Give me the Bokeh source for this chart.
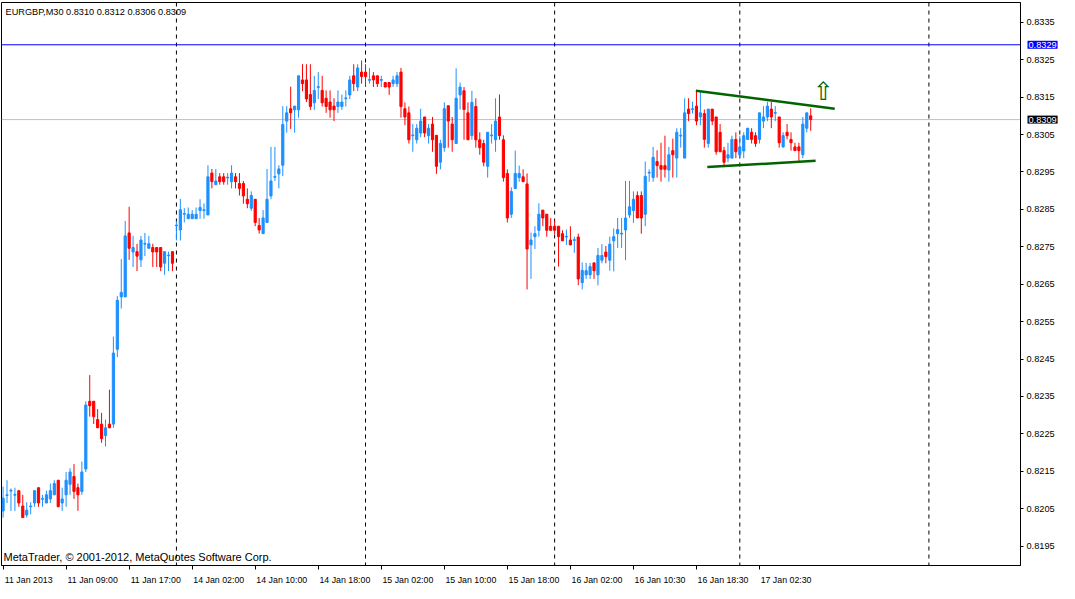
from bokeh.plotting import figure
from bokeh.models import Range1d, FixedTicker, PrintfTickFormatter, Span, Label, ColumnDataSource
from bokeh.core.properties import value
from bokeh.embed import file_html
from bokeh.resources import INLINE

# ---------------- data (EURGBP, M30) ----------------
opens = [0.82044, 0.82085, 0.82097, 0.82086, 0.82098, 0.82057, 0.82033, 0.82055, 0.82065, 0.82106,
         0.82075, 0.82065, 0.82076, 0.82087, 0.82126, 0.82065, 0.82087, 0.82115, 0.82136, 0.82106,
         0.82096, 0.82156, 0.82337, 0.82337, 0.82288, 0.82276, 0.82245, 0.82276, 0.82276, 0.82476,
         0.82616, 0.82616, 0.82787, 0.82736, 0.82737, 0.82715, 0.82757, 0.82746, 0.82748, 0.82748,
         0.82748, 0.82706, 0.82726, 0.82737, 0.82806, 0.82795, 0.82837, 0.82825, 0.82825, 0.82825,
         0.82847, 0.82847, 0.82835, 0.82947, 0.82916, 0.82937, 0.82937, 0.82934, 0.82924, 0.82937,
         0.82919, 0.82919, 0.82877, 0.82853, 0.82877, 0.82807, 0.82785, 0.82815, 0.82886, 0.82936,
         0.82945, 0.82968, 0.83086, 0.83119, 0.83116, 0.83116, 0.83196, 0.83196, 0.83157, 0.83135,
         0.83176, 0.83168, 0.83147, 0.83137, 0.83126, 0.83125, 0.83125, 0.83146, 0.83156, 0.83207,
         0.83177, 0.83217, 0.83217, 0.83195, 0.83207, 0.83207, 0.83195, 0.83189, 0.83189, 0.83186,
         0.83186, 0.83217, 0.83119, 0.83108, 0.83047, 0.83036, 0.83054, 0.83097, 0.83047, 0.83078,
         0.83048, 0.82976, 0.83015, 0.83127, 0.83078, 0.83026, 0.83156, 0.83167, 0.83108, 0.83047,
         0.83125, 0.83036, 0.83026, 0.82965, 0.83047, 0.83036, 0.83097, 0.83036, 0.82946, 0.82837,
         0.82906, 0.82935, 0.82937, 0.82918, 0.82755, 0.82777, 0.82794, 0.82848, 0.82837, 0.82805,
         0.82805, 0.82805, 0.82785, 0.82776, 0.82768, 0.82767, 0.82776, 0.82654, 0.82675, 0.82675,
         0.82707, 0.82675, 0.82714, 0.82736, 0.82714, 0.82766, 0.82785, 0.82784, 0.82795, 0.82835,
         0.82847, 0.82887, 0.82887, 0.82837, 0.82947, 0.82935, 0.82978, 0.82967, 0.82967, 0.82955,
         0.83007, 0.82987, 0.83046, 0.82987, 0.83118, 0.83117, 0.83126, 0.83097, 0.83106, 0.83026,
         0.83118, 0.83097, 0.83056, 0.83007, 0.82987, 0.82987, 0.83037, 0.82996, 0.83006, 0.83037,
         0.83056, 0.83047, 0.83037, 0.83086, 0.83097, 0.83118, 0.83107, 0.83097, 0.83017, 0.83056,
         0.83037, 0.83017, 0.83017, 0.82996, 0.83067, 0.83100]
highs = [0.82109, 0.82126, 0.82104, 0.82106, 0.82098, 0.82087, 0.82067, 0.82067, 0.82098, 0.82106,
         0.82087, 0.82098, 0.82117, 0.82126, 0.82126, 0.82106, 0.82148, 0.82158, 0.82169, 0.82117,
         0.82176, 0.82337, 0.82407, 0.82337, 0.82316, 0.82306, 0.82288, 0.82368, 0.82510, 0.82618,
         0.82717, 0.82819, 0.82857, 0.82779, 0.82758, 0.82779, 0.82787, 0.82779, 0.82758, 0.82748,
         0.82748, 0.82737, 0.82737, 0.82737, 0.82819, 0.82878, 0.82853, 0.82855, 0.82848, 0.82855,
         0.82877, 0.82866, 0.82968, 0.82958, 0.82958, 0.82947, 0.82947, 0.82947, 0.82968, 0.82947,
         0.82947, 0.82926, 0.82906, 0.82898, 0.82877, 0.82827, 0.82848, 0.82958, 0.83017, 0.83017,
         0.82968, 0.83126, 0.83126, 0.83178, 0.83126, 0.83207, 0.83238, 0.83238, 0.83238, 0.83207,
         0.83217, 0.83207, 0.83168, 0.83168, 0.83147, 0.83168, 0.83157, 0.83168, 0.83207, 0.83238,
         0.83238, 0.83248, 0.83238, 0.83228, 0.83217, 0.83207, 0.83207, 0.83189, 0.83189, 0.83207,
         0.83217, 0.83228, 0.83136, 0.83125, 0.83078, 0.83078, 0.83119, 0.83097, 0.83078, 0.83097,
         0.83048, 0.83036, 0.83136, 0.83127, 0.83097, 0.83227, 0.83189, 0.83177, 0.83136, 0.83167,
         0.83147, 0.83056, 0.83036, 0.83056, 0.83078, 0.83147, 0.83157, 0.83048, 0.82957, 0.82909,
         0.83007, 0.82967, 0.82957, 0.82946, 0.82788, 0.82805, 0.82866, 0.82848, 0.82837, 0.82827,
         0.82820, 0.82805, 0.82794, 0.82796, 0.82805, 0.82777, 0.82785, 0.82708, 0.82707, 0.82707,
         0.82707, 0.82747, 0.82757, 0.82752, 0.82777, 0.82799, 0.82827, 0.82827, 0.82926, 0.82926,
         0.82898, 0.82898, 0.82898, 0.82978, 0.82957, 0.83017, 0.83008, 0.83028, 0.83047, 0.83017,
         0.83039, 0.83067, 0.83067, 0.83147, 0.83147, 0.83138, 0.83167, 0.83167, 0.83117, 0.83118,
         0.83118, 0.83097, 0.83078, 0.83017, 0.83028, 0.83047, 0.83056, 0.83047, 0.83056, 0.83067,
         0.83067, 0.83056, 0.83108, 0.83126, 0.83138, 0.83138, 0.83126, 0.83097, 0.83056, 0.83078,
         0.83056, 0.83028, 0.83028, 0.83097, 0.83108, 0.83120]
lows = [0.82026, 0.82065, 0.82044, 0.82044, 0.82055, 0.82026, 0.82026, 0.82035, 0.82055, 0.82055,
        0.82055, 0.82065, 0.82065, 0.82087, 0.82055, 0.82044, 0.82055, 0.82087, 0.82076, 0.82044,
        0.82087, 0.82148, 0.82296, 0.82276, 0.82266, 0.82226, 0.82216, 0.82266, 0.82266, 0.82455,
        0.82585, 0.82616, 0.82715, 0.82696, 0.82685, 0.82696, 0.82725, 0.82746, 0.82696, 0.82696,
        0.82685, 0.82675, 0.82685, 0.82685, 0.82767, 0.82767, 0.82815, 0.82825, 0.82825, 0.82825,
        0.82825, 0.82825, 0.82835, 0.82906, 0.82916, 0.82916, 0.82916, 0.82916, 0.82906, 0.82906,
        0.82887, 0.82865, 0.82853, 0.82846, 0.82805, 0.82785, 0.82785, 0.82815, 0.82877, 0.82926,
        0.82906, 0.82939, 0.83055, 0.83065, 0.83055, 0.83095, 0.83166, 0.83137, 0.83116, 0.83116,
        0.83145, 0.83125, 0.83108, 0.83095, 0.83086, 0.83108, 0.83116, 0.83125, 0.83145, 0.83166,
        0.83166, 0.83186, 0.83177, 0.83186, 0.83177, 0.83177, 0.83177, 0.83177, 0.83156, 0.83177,
        0.83177, 0.83095, 0.83075, 0.83026, 0.83004, 0.83026, 0.83043, 0.83043, 0.83026, 0.83004,
        0.82945, 0.82957, 0.83004, 0.83015, 0.83004, 0.83026, 0.83117, 0.83036, 0.83036, 0.83036,
        0.83015, 0.82996, 0.82965, 0.82935, 0.83026, 0.83004, 0.83036, 0.82924, 0.82815, 0.82827,
        0.82906, 0.82924, 0.82924, 0.82636, 0.82664, 0.82744, 0.82777, 0.82805, 0.82777, 0.82794,
        0.82783, 0.82697, 0.82766, 0.82755, 0.82755, 0.82734, 0.82647, 0.82636, 0.82664, 0.82664,
        0.82664, 0.82647, 0.82706, 0.82706, 0.82686, 0.82684, 0.82747, 0.82747, 0.82714, 0.82827,
        0.82814, 0.82827, 0.82785, 0.82805, 0.82924, 0.82924, 0.82935, 0.82924, 0.82935, 0.82924,
        0.82935, 0.82935, 0.83015, 0.82987, 0.83086, 0.83106, 0.83075, 0.83075, 0.83015, 0.83015,
        0.83075, 0.82996, 0.83004, 0.82963, 0.82976, 0.82987, 0.82987, 0.82987, 0.82987, 0.83037,
        0.83026, 0.83017, 0.83026, 0.83067, 0.83086, 0.83067, 0.83086, 0.83015, 0.83015, 0.83037,
        0.83007, 0.83007, 0.82978, 0.82987, 0.83056, 0.83060]
closes = [0.82078, 0.82087, 0.82099, 0.82088, 0.82065, 0.82026, 0.82046, 0.82057, 0.82098, 0.82065,
          0.82077, 0.82087, 0.82098, 0.82117, 0.82055, 0.82076, 0.82126, 0.82148, 0.82096, 0.82087,
          0.82148, 0.82327, 0.82325, 0.82296, 0.82266, 0.82237, 0.82266, 0.82266, 0.82466, 0.82607,
          0.82628, 0.82779, 0.82746, 0.82748, 0.82725, 0.82768, 0.82759, 0.82758, 0.82736, 0.82736,
          0.82696, 0.82737, 0.82728, 0.82706, 0.82808, 0.82849, 0.82839, 0.82837, 0.82837, 0.82837,
          0.82855, 0.82849, 0.82937, 0.82924, 0.82926, 0.82924, 0.82924, 0.82936, 0.82947, 0.82924,
          0.82906, 0.82886, 0.82865, 0.82887, 0.82815, 0.82795, 0.82827, 0.82877, 0.82926, 0.82938,
          0.82958, 0.83077, 0.83108, 0.83108, 0.83126, 0.83207, 0.83186, 0.83145, 0.83125, 0.83168,
          0.83178, 0.83135, 0.83125, 0.83116, 0.83116, 0.83137, 0.83137, 0.83148, 0.83196, 0.83186,
          0.83228, 0.83205, 0.83205, 0.83197, 0.83196, 0.83186, 0.83197, 0.83177, 0.83177, 0.83196,
          0.83207, 0.83125, 0.83097, 0.83036, 0.83049, 0.83067, 0.83086, 0.83054, 0.83067, 0.83036,
          0.82965, 0.83026, 0.83119, 0.83086, 0.83036, 0.83147, 0.83177, 0.83117, 0.83036, 0.83136,
          0.83036, 0.83015, 0.82976, 0.83056, 0.83049, 0.83086, 0.83047, 0.82935, 0.82827, 0.82898,
          0.82946, 0.82946, 0.82924, 0.82744, 0.82768, 0.82785, 0.82837, 0.82827, 0.82794, 0.82794,
          0.82794, 0.82777, 0.82766, 0.82778, 0.82755, 0.82769, 0.82664, 0.82687, 0.82686, 0.82697,
          0.82686, 0.82727, 0.82727, 0.82724, 0.82757, 0.82777, 0.82796, 0.82786, 0.82827, 0.82857,
          0.82877, 0.82827, 0.82827, 0.82938, 0.82949, 0.82989, 0.82967, 0.82957, 0.82957, 0.82996,
          0.82996, 0.83056, 0.83048, 0.83108, 0.83106, 0.83119, 0.83086, 0.83108, 0.83037, 0.83118,
          0.83086, 0.83004, 0.83004, 0.82976, 0.82996, 0.83037, 0.83004, 0.83017, 0.83047, 0.83067,
          0.83037, 0.83026, 0.83108, 0.83097, 0.83126, 0.83097, 0.83109, 0.83028, 0.83047, 0.83047,
          0.83028, 0.83007, 0.83007, 0.83078, 0.83108, 0.83090]

tick_bars = [0, 16, 32, 48, 64, 80, 96, 112, 128, 144, 160, 176, 192]
tick_labels = ["11 Jan 2013", "11 Jan 09:00", "11 Jan 17:00", "14 Jan 02:00", "14 Jan 10:00",
               "14 Jan 18:00", "15 Jan 02:00", "15 Jan 10:00", "15 Jan 18:00", "16 Jan 02:00",
               "16 Jan 10:30", "16 Jan 18:30", "17 Jan 02:30"]
separator_bars = [44, 92, 140, 187, 235]
price_ticks = [0.8195, 0.8205, 0.8215, 0.8225, 0.8235, 0.8245, 0.8255, 0.8265,
               0.8275, 0.8285, 0.8295, 0.8305, 0.8315, 0.8325, 0.8335]
blue_level = 0.8329
bid_level = 0.8309
upper_line_x = [175.85, 211.1]
upper_line_y = [0.83167, 0.83119]
lower_line_x = [178.75, 206.25]
lower_line_y = [0.82963, 0.82980]
arrow_x = [208.2]
arrow_y = [0.83164]
title_text = "EURGBP,M30  0.8310 0.8312 0.8306 0.8309"
copyright_text = "MetaTrader, \u00a9 2001-2012, MetaQuotes Software Corp."

# ---------------- figure ----------------
FW, FH = 1019, 563
UP, DOWN = "#1E90FF", "#FF0000"
FONT = "Liberation Sans"

n = len(opens)
src = ColumnDataSource(dict(
    x=list(range(n)),
    high=highs, low=lows,
    top=[max(o, c) for o, c in zip(opens, closes)],
    bottom=[min(o, c) for o, c in zip(opens, closes)],
    color=[UP if c >= o else DOWN for o, c in zip(opens, closes)],
))

p = figure(frame_width=FW, frame_height=FH,
           x_range=Range1d(-0.4, 258.25), y_range=Range1d(0.81898, 0.83403),
           y_axis_location="right", toolbar_location=None, output_backend="svg",
           min_border_left=1, min_border_top=2, min_border_right=38, min_border_bottom=17,
           background_fill_color="white", border_fill_color="white",
           outline_line_color="black", outline_line_width=1)
p.xgrid.visible = False
p.ygrid.visible = False

# period separators and horizontal levels
for b in separator_bars:
    p.add_layout(Span(location=b, dimension="height", line_color="black",
                      line_width=1, line_dash="4 4", level="underlay"))
p.add_layout(Span(location=blue_level, dimension="width", line_color="#0000FF",
                  line_width=1, level="underlay"))
p.add_layout(Span(location=bid_level, dimension="width", line_color="#C0C0C0",
                  line_width=1, level="underlay"))

# candles
p.segment(x0="x", y0="low", x1="x", y1="high", color="color", line_width=1, source=src)
p.vbar(x="x", width=0.55, top="top", bottom="bottom", fill_color="color",
       line_color="color", line_width=1, source=src)

# triangle lines and arrow
p.line(upper_line_x, upper_line_y, line_color="#006400", line_width=2.5)
p.line(lower_line_x, lower_line_y, line_color="#006400", line_width=2.5)
p.text(x=arrow_x, y=arrow_y, text=["\u21e7"], text_font=value("DejaVu Sans"),
       text_font_size="25px", text_color="#006400", text_align="center",
       text_baseline="middle")

# bottom time axis: labels start at the tick (left aligned look)
offsets = [6.5] + [6.75] * (len(tick_bars) - 1)
centers = [b + o for b, o in zip(tick_bars, offsets)]
xa = p.xaxis[0]
xa.ticker = FixedTicker(ticks=centers, minor_ticks=tick_bars)
xa.major_label_overrides = {c: t for c, t in zip(centers, tick_labels)}
xa.major_tick_out = 0
xa.major_tick_in = 0
xa.minor_tick_out = 4
xa.minor_tick_in = 0
xa.minor_tick_line_color = "black"
xa.axis_line_color = "black"
xa.major_label_standoff = 5
xa.major_label_text_font = FONT
xa.major_label_text_font_size = "8.8px"
xa.major_label_text_color = "black"

# right price axis
ya = p.yaxis[0]
ya.ticker = FixedTicker(ticks=price_ticks)
ya.formatter = PrintfTickFormatter(format="%.4f")
ya.major_tick_out = 3
ya.major_tick_in = 0
ya.minor_tick_out = 0
ya.minor_tick_in = 0
ya.major_tick_line_color = "black"
ya.axis_line_color = "black"
ya.major_label_standoff = 3
ya.major_label_text_font = FONT
ya.major_label_text_font_size = "9.2px"
ya.major_label_text_color = "black"

# price boxes on the axis (side panels, so they are not clipped to the frame;
# each sits in its own panel to the right of the axis, hence the negative offsets)
p.add_layout(Label(x=-30, y=blue_level, x_units="screen", y_units="data",
                   text="%.4f" % blue_level, text_color="white", text_font=FONT,
                   text_font_size="9.2px", text_baseline="middle", text_align="left",
                   background_fill_color="#0000FF", padding=1), "right")
p.add_layout(Label(x=-60, y=bid_level, x_units="screen", y_units="data",
                   text="%.4f" % bid_level, text_color="white", text_font=FONT,
                   text_font_size="9.2px", text_baseline="middle", text_align="left",
                   background_fill_color="black", padding=1), "right")

# texts inside the chart
p.add_layout(Label(x=4, y=FH - 4, x_units="screen", y_units="screen", text=title_text,
                   text_font=FONT, text_font_size="9.2px", text_color="black",
                   text_baseline="top", text_align="left"))
p.add_layout(Label(x=2, y=3, x_units="screen", y_units="screen", text=copyright_text,
                   text_font=FONT, text_font_size="11px", text_color="black",
                   text_baseline="bottom", text_align="left"))

open("out.html", "w").write(file_html(p, INLINE))
